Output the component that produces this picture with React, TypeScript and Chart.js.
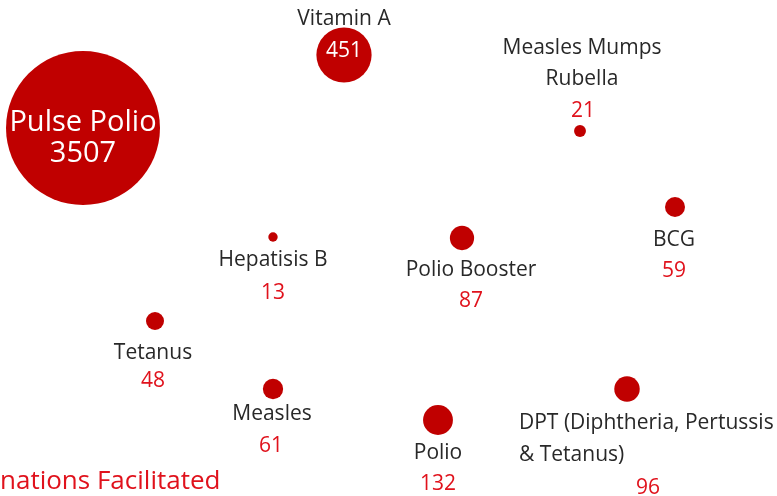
import React, { useEffect, useRef } from "react";
import { Chart, registerables } from "chart.js";
Chart.register(...registerables);

// ---- data ----
const names: string[][] = [
  ["Pulse Polio"],
  ["Vitamin A"],
  ["Measles Mumps", "Rubella"],
  ["Hepatisis B"],
  ["Polio Booster"],
  ["BCG"],
  ["Tetanus"],
  ["Measles"],
  ["Polio"],
  ["DPT (Diphtheria, Pertussis", "& Tetanus)"],
];
const counts: number[] = [3507, 451, 21, 13, 87, 59, 48, 61, 132, 96];
// bubble placement on an abstract 0..777 x 0..496 layout grid
const xs: number[] = [83, 344, 580, 273, 462, 675, 155, 273, 438, 627];
const ys: number[] = [128, 55, 131, 237, 238, 207, 321, 389, 420, 389];
const titleText = "nations Facilitated";

// ---- label layout (positions in the same grid units) ----
type L = { x: number; y: number; align?: CanvasTextAlign };
const nameLayout: L[][] = [
  [{ x: 83, y: 123 }],
  [{ x: 344, y: 19 }],
  [{ x: 582, y: 48 }, { x: 582, y: 79 }],
  [{ x: 273, y: 260 }],
  [{ x: 471, y: 270 }],
  [{ x: 674, y: 240 }],
  [{ x: 153, y: 353 }],
  [{ x: 272, y: 414 }],
  [{ x: 438, y: 453 }],
  [{ x: 519, y: 423, align: "left" }, { x: 519, y: 455, align: "left" }],
];
const valueLayout: L[] = [
  { x: 83, y: 154 },
  { x: 344, y: 51 },
  { x: 583, y: 111 },
  { x: 273, y: 293 },
  { x: 471, y: 301 },
  { x: 674, y: 271 },
  { x: 153, y: 381 },
  { x: 271, y: 446 },
  { x: 438, y: 484 },
  { x: 648, y: 488 },
];

const FONT = '"Open Sans", "Noto Sans", sans-serif';
const BUBBLE = "#c00000";
const RED = "#e0121c";
const DARK = "#282828";

const labelPlugin = {
  id: "bubbleLabels",
  afterDatasetsDraw(chart: any) {
    const ctx = chart.ctx as CanvasRenderingContext2D;
    const sx = chart.scales.x;
    const sy = chart.scales.y;
    ctx.save();
    ctx.textBaseline = "middle";
    names.forEach((lines, i) => {
      const big = i === 0;
      const inside = i === 0;
      lines.forEach((t, j) => {
        const p = nameLayout[i][j];
        ctx.textAlign = p.align || "center";
        ctx.fillStyle = inside ? "#ffffff" : DARK;
        ctx.font = `${big ? 29 : 21}px ${FONT}`;
        ctx.fillText(t, sx.getPixelForValue(p.x), sy.getPixelForValue(p.y));
      });
      const v = valueLayout[i];
      ctx.textAlign = "center";
      ctx.fillStyle = i <= 1 ? "#ffffff" : RED;
      ctx.font = `${big ? 29 : 21}px ${FONT}`;
      ctx.fillText(String(counts[i]), sx.getPixelForValue(v.x), sy.getPixelForValue(v.y));
    });
    ctx.textAlign = "left";
    ctx.fillStyle = RED;
    ctx.font = `26px ${FONT}`;
    ctx.fillText(titleText, sx.getPixelForValue(0), sy.getPixelForValue(482));
    ctx.restore();
  },
};

export default function App() {
  const ref = useRef<HTMLCanvasElement>(null);
  useEffect(() => {
    if (!ref.current) return;
    const chart = new Chart(ref.current, {
      type: "bubble",
      data: {
        datasets: [
          {
            data: counts.map((c, i) => ({ x: xs[i], y: ys[i], r: 1.3 * Math.sqrt(c) })),
            backgroundColor: BUBBLE,
            borderWidth: 0,
            hoverBorderWidth: 0,
            clip: false,
          },
        ],
      },
      options: {
        animation: false,
        responsive: false,
        maintainAspectRatio: false,
        layout: { padding: 0, autoPadding: false },
        plugins: { legend: { display: false }, tooltip: { enabled: false } },
        scales: {
          x: { type: "linear", min: 0, max: 777, display: false },
          y: { type: "linear", min: 0, max: 496, reverse: true, display: false },
        },
      },
      plugins: [labelPlugin],
    });
    return () => chart.destroy();
  }, []);
  return (
    <div style={{ position: "fixed", left: 0, top: 0, width: 777, height: 496, background: "#fff" }}>
      <canvas ref={ref} width={777} height={496} style={{ width: 777, height: 496, display: "block" }} />
    </div>
  );
}
